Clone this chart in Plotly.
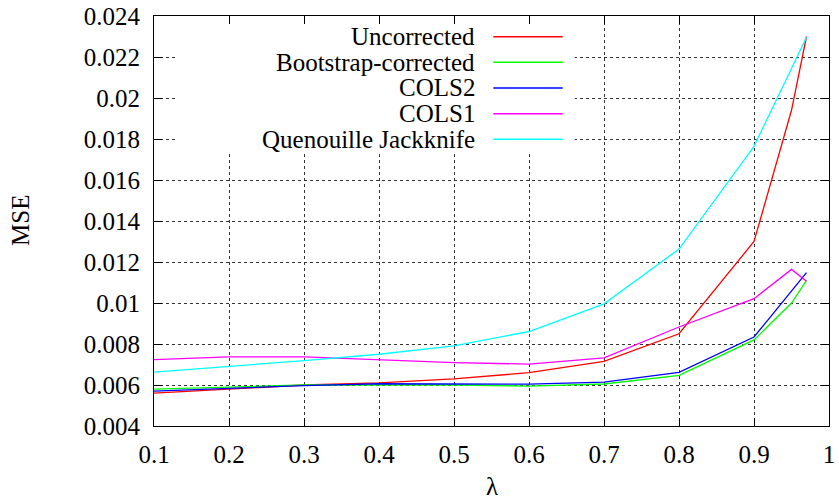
import plotly.graph_objects as go

# ---------------- data ----------------
lam = [0.1, 0.2, 0.3, 0.4, 0.5, 0.6, 0.7, 0.8, 0.9, 0.95, 0.97]
uncorrected = [0.0056, 0.0058, 0.0060, 0.0061, 0.0063, 0.0066, 0.00715, 0.0085, 0.0130, 0.0194, 0.0230]
bootstrap = [0.0058, 0.0059, 0.0060, 0.0060, 0.0060, 0.00595, 0.00605, 0.00647, 0.0082, 0.0100, 0.0111]
cols2 = [0.0057, 0.00585, 0.00597, 0.00606, 0.00604, 0.00604, 0.00614, 0.00662, 0.00834, 0.0106, 0.01148]
cols1 = [0.00724, 0.00737, 0.00737, 0.00723, 0.00709, 0.00702, 0.00732, 0.00883, 0.01021, 0.01164, 0.01106]
jackknife = [0.00663, 0.0069, 0.00719, 0.0075, 0.00791, 0.00861, 0.00996, 0.01263, 0.01764, 0.02144, 0.02297]

series_names = ["Uncorrected", "Bootstrap-corrected", "COLS2", "COLS1", "Quenouille Jackknife"]
series_values = [uncorrected, bootstrap, cols2, cols1, jackknife]
series_colors = ["#ff0000", "#00ff00", "#0000ff", "#ff00ff", "#00ffff"]

x_ticks = [0.1, 0.2, 0.3, 0.4, 0.5, 0.6, 0.7, 0.8, 0.9, 1.0]
x_tick_text = ["0.1", "0.2", "0.3", "0.4", "0.5", "0.6", "0.7", "0.8", "0.9", "1"]
y_ticks = [0.004, 0.006, 0.008, 0.010, 0.012, 0.014, 0.016, 0.018, 0.020, 0.022, 0.024]
y_tick_text = ["0.004", "0.006", "0.008", "0.01", "0.012", "0.014", "0.016", "0.018", "0.02", "0.022", "0.024"]

FONT = "Liberation Serif, Times New Roman, serif"
FS = 25

fig = go.Figure()
for name, vals, col in zip(series_names, series_values, series_colors):
    fig.add_trace(go.Scatter(x=lam, y=vals, mode="lines", name=name,
                             line=dict(color=col, width=1.3), showlegend=False))

# white legend box covering the grid (between grid and traces)
shapes = [dict(type="rect", xref="x", yref="y", x0=0.128, x1=0.661, y0=0.01738, y1=0.02362,
               fillcolor="white", line=dict(width=0), layer="between")]
annotations = []
row_y = [36.7, 62.3, 88.0, 113.7, 139.3]  # pixel rows of legend entries
plot_top, plot_h, plot_l, plot_w = 16, 410, 154, 675
for name, col, py in zip(series_names, series_colors, row_y):
    yp = 1 - (py - plot_top) / plot_h
    annotations.append(dict(xref="paper", yref="paper", x=(477 - plot_l) / plot_w, y=yp,
                            xanchor="right", yanchor="middle", text=name, showarrow=False,
                            font=dict(family=FONT, size=FS, color="black")))
    shapes.append(dict(type="line", xref="paper", yref="paper",
                       x0=(493.3 - plot_l) / plot_w, x1=(562.7 - plot_l) / plot_w, y0=yp, y1=yp,
                       line=dict(color=col, width=1.5), layer="above"))

annotations.append(dict(xref="paper", yref="paper", x=(20 - plot_l) / plot_w, y=0.5,
                        xanchor="center", yanchor="middle", text="MSE", textangle=-90,
                        showarrow=False, font=dict(family=FONT, size=FS, color="black")))
annotations.append(dict(xref="paper", yref="paper", x=0.5, y=(426 - 487) / plot_h,
                        xanchor="center", yanchor="middle", text="λ",
                        showarrow=False, font=dict(family=FONT, size=FS, color="black")))

axis_common = dict(showline=True, linecolor="black", linewidth=1.2, mirror="allticks",
                   ticks="inside", ticklen=8, tickcolor="black", tickwidth=1.2,
                   showgrid=True, gridcolor="#333333", griddash="dot", gridwidth=1,
                   zeroline=False, automargin=False,
                   tickfont=dict(family=FONT, size=FS, color="black"))

fig.update_xaxes(range=[0.1, 1.0], tickvals=x_ticks, ticktext=x_tick_text,
                 ticklabelstandoff=6, **axis_common)
fig.update_yaxes(range=[0.004, 0.024], tickvals=y_ticks, ticktext=y_tick_text,
                 ticklabelstandoff=8, **axis_common)

fig.update_layout(width=839, height=502, margin=dict(l=154, r=10, t=16, b=76),
                  paper_bgcolor="white", plot_bgcolor="white",
                  shapes=shapes, annotations=annotations, showlegend=False)

fig.write_html("out.html")
